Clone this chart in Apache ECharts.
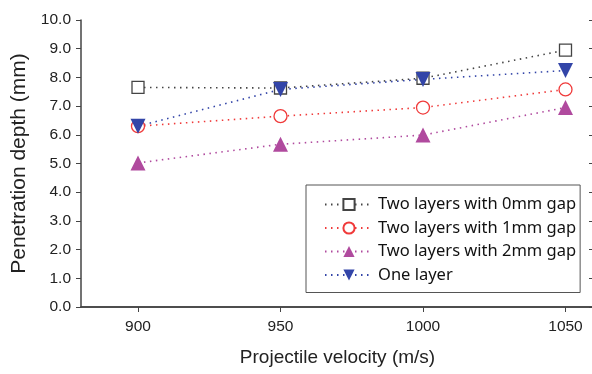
<!DOCTYPE html>
<html lang="en">
<head>
  <meta charset="UTF-8">
  <title>Penetration depth</title>
  <style>
    body{ margin:0; background:#fff; }
    #main{ width:592px; height:374px; }
  </style>
</head>
<body>
  <div id="main"></div>
  <script src="https://cdn.jsdelivr.net/npm/echarts@6/dist/echarts.min.js"></script>
  <script>
// 数据
const velocity = [900, 950, 1000, 1050];
const gap0 = [7.65, 7.63, 7.97, 8.95];
const gap1 = [6.3, 6.65, 6.95, 7.58];
const gap2 = [5.02, 5.67, 5.99, 6.95];
const oneLayer = [6.3, 7.58, 7.93, 8.24];
const names = ['Two layers with 0mm gap', 'Two layers with 1mm gap', 'Two layers with 2mm gap', 'One layer'];

const pair = arr => velocity.map((v, i) => [v, arr[i]]);
const font = 'Liberation Sans';

function lineSeries(name, data, color, symbol, size, hollow) {
  return {
    name: name,
    type: 'line',
    data: pair(data),
    symbol: symbol,
    symbolSize: size,
    lineStyle: { color: color, width: 1.6, type: [1.5, 4.5] },
    itemStyle: hollow
      ? { color: '#fff', borderColor: color, borderWidth: 1.3 }
      : { color: color, borderWidth: 0 },
    z: 3
  };
}

let chart = echarts.init(document.getElementById('main'));
chart.setOption({
  animation: false,
  grid: { left: 81, right: -2, top: 20, bottom: 67, outerBoundsMode: 'none' },
  legend: {
    orient: 'vertical',
    left: 306, top: 185,
    padding: [11, 4, 9, 18],
    itemGap: 6.5,
    itemWidth: 48, itemHeight: 14,
    borderColor: '#555', borderWidth: 1,
    textStyle: { fontFamily: 'Noto Sans', fontSize: 16.5, color: '#111' },
    data: names
  },
  xAxis: [{
    type: 'value', min: 880, max: 1060,
    name: 'Projectile velocity (m/s)', nameLocation: 'middle', nameGap: 41,
    nameTextStyle: { fontFamily: font, fontSize: 19, color: '#222' },
    axisLine: { lineStyle: { color: '#444', width: 1.5 } },
    axisTick: { customValues: velocity, length: 5, lineStyle: { color: '#444' } },
    axisLabel: { customValues: velocity, fontFamily: font, fontSize: 15.5, color: '#222', margin: 12,
      formatter: v => String(v) },
    splitLine: { show: false }
  }, {
    type: 'value', position: 'top', min: 880, max: 1060,
    axisLine: { show: true, lineStyle: { color: '#444', width: 1.5 } },
    axisTick: { customValues: velocity, inside: true, length: 5, lineStyle: { color: '#444' } },
    axisLabel: { show: false },
    splitLine: { show: false }
  }],
  yAxis: [{
    type: 'value', min: 0, max: 10, interval: 1,
    name: 'Penetration depth (mm)', nameLocation: 'middle', nameGap: 51,
    nameTextStyle: { fontFamily: font, fontSize: 21, color: '#222' },
    axisLine: { show: true, lineStyle: { color: '#444', width: 1.5 } },
    axisTick: { show: true, length: 5, lineStyle: { color: '#444' } },
    axisLabel: { fontFamily: font, fontSize: 15.5, color: '#222', margin: 10,
      formatter: v => v.toFixed(1) },
    splitLine: { show: false }
  }, {
    type: 'value', position: 'right', min: 0, max: 10, interval: 1,
    axisLine: { show: true, lineStyle: { color: '#444', width: 1.5 } },
    axisTick: { show: true, inside: true, length: 5, lineStyle: { color: '#444' } },
    axisLabel: { show: false },
    splitLine: { show: false }
  }],
  series: [
    lineSeries(names[0], gap0, '#444', 'rect', 12, true),
    lineSeries(names[1], gap1, '#f03a3a', 'circle', 13, true),
    lineSeries(names[2], gap2, '#b04a9e', 'triangle', 15, false),
    lineSeries(names[3], oneLayer, '#3345a8', 'path://M0,0 L10,0 L5,9 Z', 15, false)
  ]
});
  </script>
</body>
</html>
